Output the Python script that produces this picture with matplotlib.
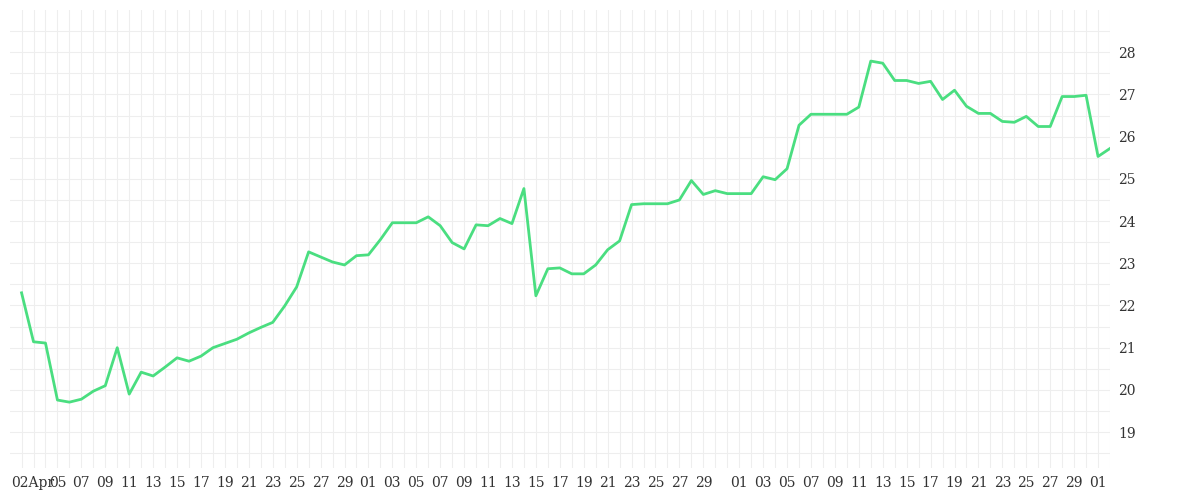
import matplotlib
matplotlib.use("Agg")
import matplotlib.pyplot as plt
import matplotlib.dates as mdates
import numpy as np
import datetime as dt

start = dt.date(2024, 4, 2)
values = [22.3, 21.14, 21.11, 19.76, 19.71, 19.78, 19.97, 20.1, 21.0, 19.9,
          20.42, 20.33, 20.54, 20.76, 20.68, 20.8, 21.0, 21.1, 21.2, 21.35,
          21.48, 21.6, 21.99, 22.44, 23.27, 23.15, 23.03, 22.96, 23.18, 23.2,
          23.56, 23.96, 23.96, 23.96, 24.1, 23.89, 23.49, 23.34, 23.91, 23.89,
          24.06, 23.94, 24.77, 22.23, 22.87, 22.89, 22.75, 22.75, 22.96, 23.32,
          23.53, 24.39, 24.41, 24.41, 24.41, 24.5, 24.96, 24.63, 24.72, 24.65,
          24.65, 24.65, 25.05, 24.98, 25.24, 26.27, 26.53, 26.53, 26.53, 26.53,
          26.7, 27.79, 27.74, 27.33, 27.33, 27.26, 27.31, 26.88, 27.1, 26.72,
          26.55, 26.55, 26.36, 26.34, 26.48, 26.24, 26.24, 26.95, 26.95, 26.98,
          25.53, 25.72]
dates = [start + dt.timedelta(days=i) for i in range(len(values))]

fig = plt.figure(figsize=(12, 5), dpi=100)
ax = fig.add_axes([0.008, 0.064, 0.917, 0.916])
ax.plot(dates, values, color="#4ade80", lw=2)
ax.set_xlim(dt.date(2024, 4, 1) + dt.timedelta(days=0.6), dates[-1] + dt.timedelta(days=0.5))
ax.set_ylim(18.15, 29.0)
ax.yaxis.tick_right()
ax.set_yticks(range(19, 29))
ax.set_yticks(np.arange(18.5, 29, 1), minor=True)
ticks = [d for d in dates if (d.day % 2 == 1 and d.day != 31) or d == start]
ticks = [d for d in ticks if not (d.month == 4 and d.day == 3)]
ax.set_xticks(ticks, labels=[("02Apr" if d == start else d.strftime("%d")) for d in ticks], minor=False)
ax.set_xticks(dates, minor=True)
ax.grid(True, which="both", color="#eeeeee", lw=0.8)
ax.set_axisbelow(True)
for s in ax.spines.values():
    s.set_visible(False)
ax.tick_params(which="both", length=0, colors="#333333", pad=6)
for t in ax.get_xticklabels() + ax.get_yticklabels():
    t.set_family("DejaVu Serif")
    t.set_fontsize(10)
lab0 = ax.get_xticklabels()[0]
lab0.set_horizontalalignment("left")
lab0.set_x(lab0.get_position()[0])
import matplotlib.transforms as mtrans
lab0.set_transform(lab0.get_transform() + mtrans.ScaledTranslation(-10/100, 0, fig.dpi_scale_trans))
fig.savefig("out.png")
